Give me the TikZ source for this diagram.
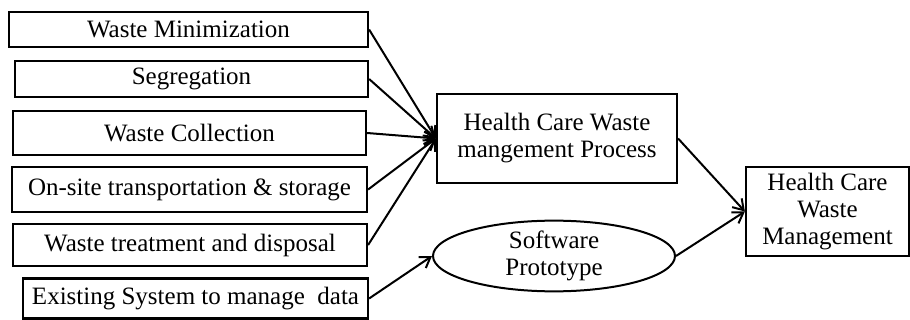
\documentclass[tikz,border=0pt]{standalone}
\usepackage{fontspec}
\setmainfont{Liberation Serif}
\usetikzlibrary{arrows.meta,shapes.geometric}
\begin{document}
\begin{tikzpicture}[x=1pt,y=-1pt,
  box/.style={draw,line width=2.2pt,rectangle,inner sep=0pt,align=center,
    font=\fontsize{25}{27}\selectfont},
  oval/.style={draw,line width=2pt,ellipse,inner sep=0pt,align=center,
    font=\fontsize{25}{27}\selectfont},
  arr/.style={line width=2pt,-{Straight Barb[length=10pt,width=13pt,line width=2pt]}}]
\useasboundingbox (0,0) rectangle (910,320);
\node[box,minimum width=359pt,minimum height=35pt] (b1) at (188.5,29.5) {Waste Minimization};
\node[box,minimum width=353pt,minimum height=36pt] (b2) at (191.5,79) {Segregation};
\node[box,minimum width=353pt,minimum height=44pt] (b3) at (189.5,133) {Waste Collection};
\node[box,minimum width=355pt,minimum height=45pt] (b4) at (189.5,189.5) {On-site transportation \& storage};
\node[box,minimum width=354pt,minimum height=42pt] (b5) at (190,245) {Waste treatment and disposal};
\node[box,minimum width=345pt,minimum height=40pt] (b6) at (195.5,298.5) {Existing System to manage\ \ data};
\node[box,minimum width=240pt,minimum height=89pt] (proc) at (557,138.5) {Health Care Waste\\mangement Process};
\node[oval,minimum width=242pt,minimum height=52pt] (soft) at (554,256) {Software\\Prototype};
\node[box,minimum width=163pt,minimum height=89pt] (hcwm) at (827.5,211.5) {Health Care\\Waste\\Management};
\foreach \b in {b1,b2,b3,b4,b5} \draw[arr] (\b.east) -- (proc.west);
\draw[arr] (b6.east) -- (soft.west);
\draw[arr] (proc.east) -- (hcwm.west);
\draw[arr] (soft.east) -- (hcwm.west);
\end{tikzpicture}
\end{document}
